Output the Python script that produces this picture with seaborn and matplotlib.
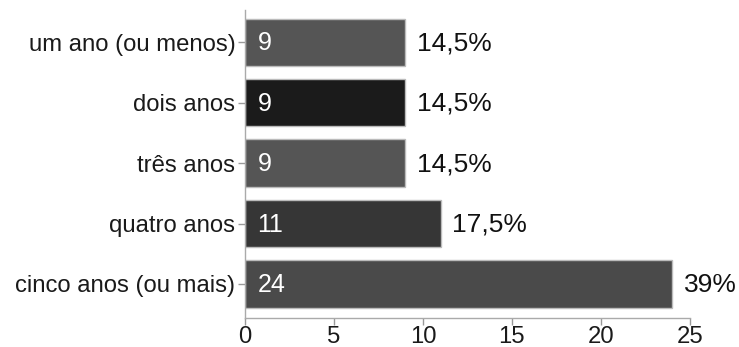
import matplotlib.pyplot as plt
import seaborn as sns
import pandas as pd

# data
categories = ['um ano (ou menos)', 'dois anos', 'três anos', 'quatro anos', 'cinco anos (ou mais)']
counts = [9, 9, 9, 11, 24]
pct_labels = ['14,5%', '14,5%', '14,5%', '17,5%', '39%']
bar_colors = ['#555555', '#1b1b1b', '#555555', '#363636', '#4a4a4a']

df = pd.DataFrame({'categoria': categories, 'n': counts})

sns.set_style('white')
plt.rcParams['font.family'] = ['Liberation Sans', 'DejaVu Sans']

fig = plt.figure(figsize=(7.39, 3.47), dpi=100)
ax = fig.add_axes([0.3315, 0.084, 0.602, 0.887])

sns.barplot(data=df, y='categoria', x='n', hue='categoria', palette=bar_colors,
            orient='h', width=0.78, edgecolor='#bbbbbb', linewidth=1,
            legend=False, ax=ax)

for i, (v, p) in enumerate(zip(counts, pct_labels)):
    ax.text(0.7, i + 0.02, str(v), color='white', va='center', ha='left', fontsize=18)
    ax.text(v + 0.65, i + 0.02, p, color='#111111', va='center', ha='left', fontsize=19)

ax.set_xlim(0, 25)
ax.set_ylim(4.56, -0.53)
ax.set_xticks([0, 5, 10, 15, 20, 25])
ax.set_xlabel('')
ax.set_ylabel('')
ax.tick_params(axis='both', labelsize=17.2, colors='#999999', length=5, width=1,
               labelcolor='#1a1a1a', pad=2)
ax.tick_params(axis='x', direction='out', bottom=True, pad=1)
ax.tick_params(axis='y', direction='out', left=True)
for s in ['top', 'right']:
    ax.spines[s].set_visible(False)
for s in ['left', 'bottom']:
    ax.spines[s].set_color('#aaaaaa')
    ax.spines[s].set_linewidth(1)

fig.savefig('out.png', dpi=100)
